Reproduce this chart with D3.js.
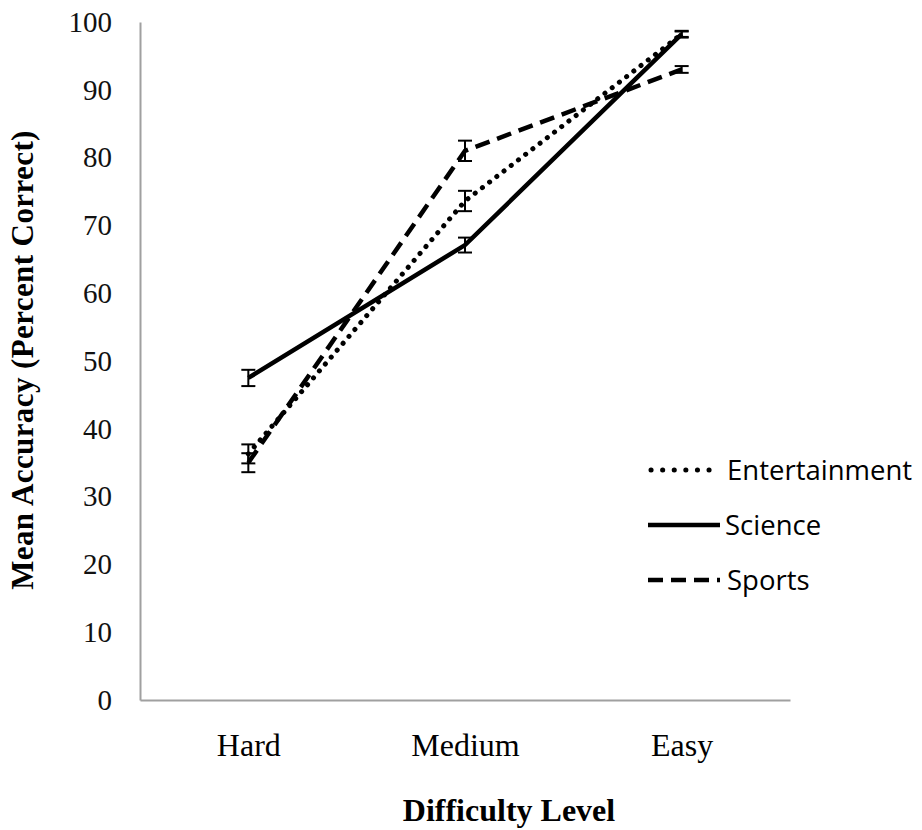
<!DOCTYPE html>
<html>
<head>
<meta charset="utf-8">
<script src="https://cdn.jsdelivr.net/npm/d3@7"></script>
<style>
body { margin: 0; background: #fff; }
</style>
</head>
<body>
<svg id="chart" width="922" height="830"></svg>
<script>
// data
var levels = ["Hard", "Medium", "Easy"]
var entertainment = [36.3, 73.6, 98.2]
var entertainmentErr = [1.4, 1.5, 0.5]
var science = [47.5, 67.1, 98.2]
var scienceErr = [1.2, 1.1, 0.4]
var sports = [35.0, 81.0, 93.0]
var sportsErr = [1.4, 1.5, 0.5]
var yTicks = [0, 10, 20, 30, 40, 50, 60, 70, 80, 90, 100]

var series = [
  { name: "Entertainment", values: entertainment, err: entertainmentErr, dash: "0.1 9", width: 5, cap: "round", legDash: "0.1 11.5" },
  { name: "Science", values: science, err: scienceErr, dash: null, width: 4.5, cap: "butt", legDash: null },
  { name: "Sports", values: sports, err: sportsErr, dash: "15 8", width: 4.5, cap: "butt", legDash: "15 8" }
]

var svg = d3.select("#chart")
// plot box (note: "top" is reserved on window, so use other names)
var plotLeft = 140, plotRight = 790, plotTop = 22, plotBottom = 700
var serif = "'Liberation Serif', 'Times New Roman', serif"

var x = d3.scalePoint().domain(levels).range([plotLeft, plotRight]).padding(0.5)
var y = d3.scaleLinear().domain([0, 100]).range([plotBottom, plotTop])

// axes (grey, no ticks)
var yAxis = svg.append("g")
  .attr("transform", "translate(" + plotLeft + ",0)")
  .call(d3.axisLeft(y).tickValues(yTicks).tickSize(0).tickPadding(28))
yAxis.select(".domain").attr("stroke", "#a0a0a0").attr("stroke-width", 2)
yAxis.selectAll("text")
  .attr("font-family", serif).attr("font-size", 29).attr("fill", "#111")

var xAxis = svg.append("g")
  .attr("transform", "translate(0," + plotBottom + ")")
  .call(d3.axisBottom(x).tickSize(0).tickPadding(33))
xAxis.select(".domain").attr("stroke", "#a0a0a0").attr("stroke-width", 2)
xAxis.selectAll("text")
  .attr("font-family", serif).attr("font-size", 32).attr("fill", "#000")

// titles
svg.append("text")
  .attr("x", 509).attr("y", 821)
  .attr("text-anchor", "middle")
  .attr("font-family", serif).attr("font-weight", "bold").attr("font-size", 32)
  .text("Difficulty Level")

svg.append("text")
  .attr("transform", "translate(33,360) rotate(-90)")
  .attr("text-anchor", "middle")
  .attr("font-family", serif).attr("font-weight", "bold").attr("font-size", 31)
  .attr("letter-spacing", 0.4)
  .text("Mean Accuracy (Percent Correct)")

var line = d3.line().x(function(d, i) { return x(levels[i]) }).y(function(d) { return y(d) })

series.forEach(function(s) {
  svg.append("path")
    .datum(s.values)
    .attr("d", line)
    .attr("fill", "none")
    .attr("stroke", "#000")
    .attr("stroke-width", s.width)
    .attr("stroke-linecap", s.cap)
    .attr("stroke-dasharray", s.dash)

  var eb = svg.append("g")
  s.values.forEach(function(v, i) {
    var cx = x(levels[i])
    var lo = y(v - s.err[i]), hi = y(v + s.err[i])
    eb.append("line").attr("x1", cx).attr("x2", cx).attr("y1", lo).attr("y2", hi)
    eb.append("line").attr("x1", cx - 7).attr("x2", cx + 7).attr("y1", lo).attr("y2", lo)
    eb.append("line").attr("x1", cx - 7).attr("x2", cx + 7).attr("y1", hi).attr("y2", hi)
  })
  eb.selectAll("line").attr("stroke", "#000").attr("stroke-width", 2)
})

// legend
var leg = svg.append("g").selectAll("g").data(series).enter().append("g")
  .attr("transform", function(d, i) { return "translate(648," + (470 + i * 55) + ")" })
leg.append("line")
  .attr("x1", function(d) { return d.cap == "round" ? 3 : 0 }).attr("x2", 72)
  .attr("stroke", "#000")
  .attr("stroke-width", function(d) { return d.width })
  .attr("stroke-linecap", function(d) { return d.cap })
  .attr("stroke-dasharray", function(d) { return d.legDash })
leg.append("text")
  .attr("x", function(d) { return d.name == "Science" ? 77 : 79 }).attr("dy", "0.35em")
  .attr("font-family", "'Open Sans', sans-serif").attr("font-size", 27.5)
  .text(function(d) { return d.name })
</script>
</body>
</html>
